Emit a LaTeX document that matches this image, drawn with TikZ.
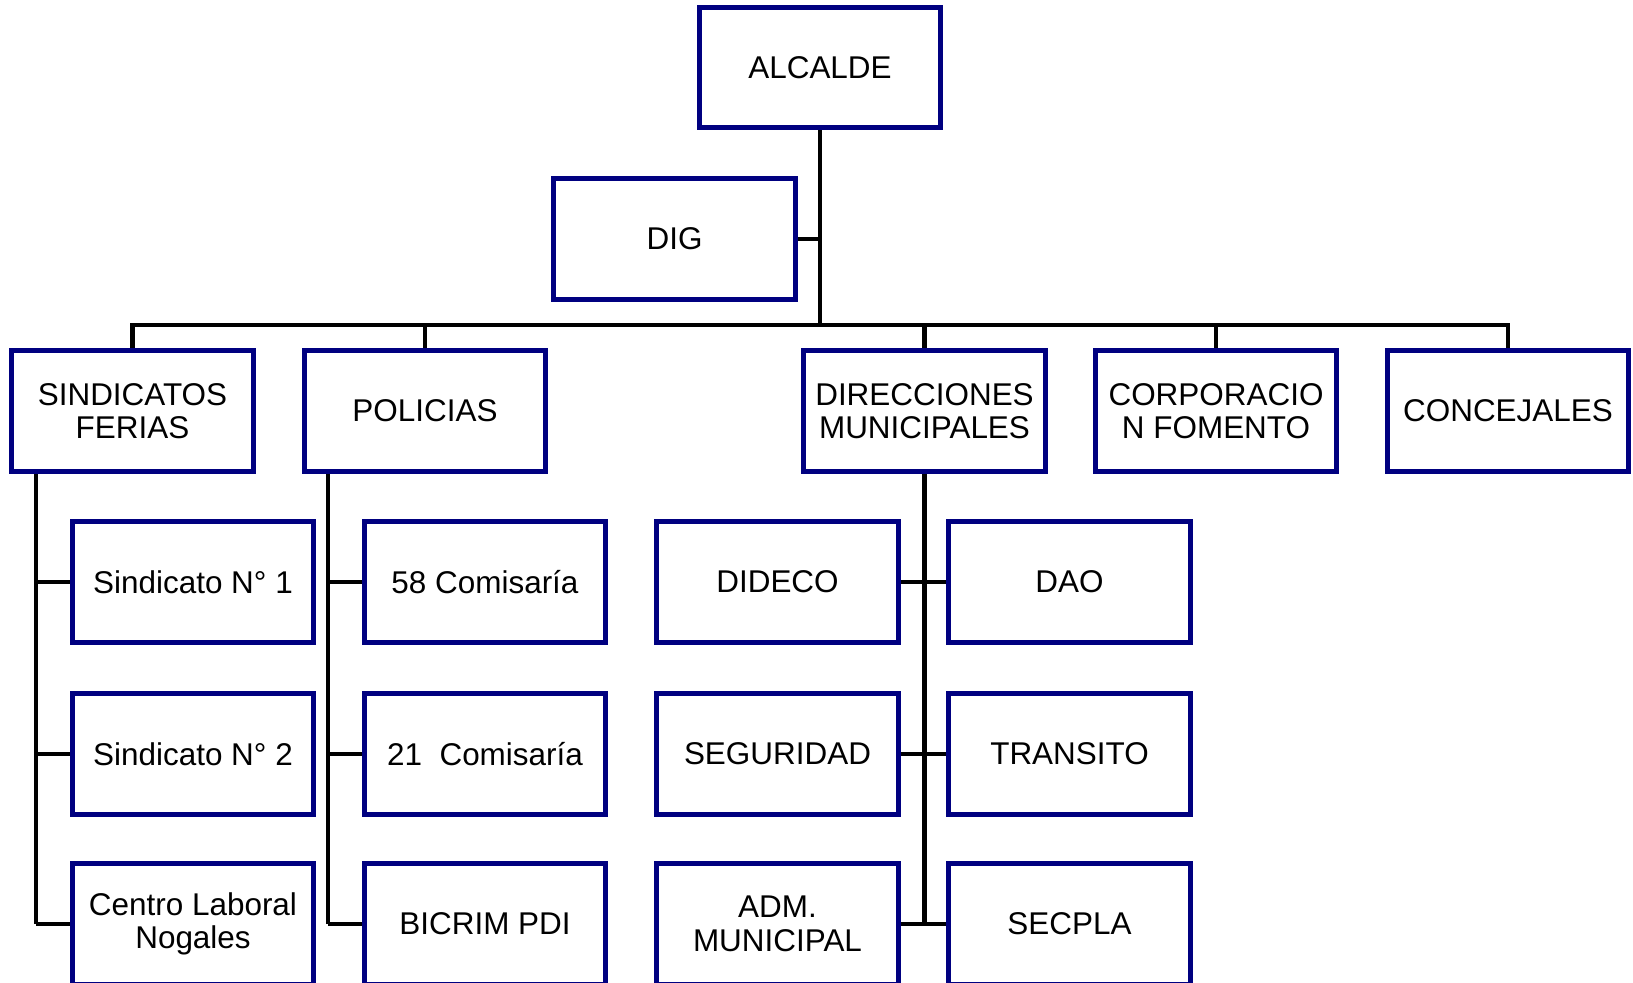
\documentclass[tikz,border=0pt]{standalone}
\usepackage{fontspec}
\setmainfont{Liberation Sans}
\usepackage{xcolor}
\definecolor{Col1}{RGB}{0,0,128}
\definecolor{Col2}{RGB}{0,0,0}
\usepackage{tikz}
\tikzstyle{Box}=[rectangle,draw=Col1,fill=white,line width=0.1cm,
minimum width=4.84cm,minimum height=2.42cm,inner sep=0pt,align=center,
font=\fontsize{17.9}{19}\selectfont]
\tikzstyle{Edge}=[draw=Col2,line width=0.09cm]

\begin{document}
\begin{tikzpicture}[x=0.02cm,y=-0.02cm]
        \useasboundingbox(0,0)rectangle(1633,983);
        \coordinate(bus)at(820,325);
        \coordinate(sp1)at(36,472);
        \coordinate(sp2)at(328,472);
        \draw[Edge](sp1)--(36,924);
        \draw[Edge](sp2)--(328,924);
        \node[Box](alc)at(820,67.5){ALCALDE};
        \node[Box](dig)at(674.5,239){DIG};
        \node[Box](sind)at(132.5,411){SINDICATOS\\FERIAS};
        \node[Box](pol)at(425,411){POLICIAS};
        \node[Box](dir)at(924.5,411){DIRECCIONES\\MUNICIPALES};
        \node[Box](corp)at(1216,411){CORPORACIO\\N FOMENTO};
        \node[Box](conc)at(1508,411){CONCEJALES};
        \node[Box](sin1)at(193,582){Sindicato N° 1};
        \node[Box](sin2)at(193,754){Sindicato N° 2};
        \node[Box](cln)at(193,924){Centro Laboral\\Nogales};
        \node[Box](com58)at(485,582){58 Comisaría};
        \node[Box](com21)at(485,754){21~~Comisaría};
        \node[Box](pdi)at(485,924){BICRIM PDI};
        \node[Box](dideco)at(777.5,582){DIDECO};
        \node[Box](seg)at(777.5,754){SEGURIDAD};
        \node[Box](adm)at(777.5,924){ADM.\\MUNICIPAL};
        \node[Box](dao)at(1069.5,582){DAO};
        \node[Box](tra)at(1069.5,754){TRANSITO};
        \node[Box](sec)at(1069.5,924){SECPLA};
        \draw[Edge](alc)--(bus);
        \draw[Edge](dig)--(dig-|bus);
        \draw[Edge](sind)|-(bus);
        \draw[Edge](pol)|-(bus);
        \draw[Edge](dir)|-(bus);
        \draw[Edge](corp)|-(bus);
        \draw[Edge](conc)|-(bus);
        \draw[Edge](sp1|-sin1)--(sin1);
        \draw[Edge](sp1|-sin2)--(sin2);
        \draw[Edge](sp1|-cln)--(cln);
        \draw[Edge](sp2|-com58)--(com58);
        \draw[Edge](sp2|-com21)--(com21);
        \draw[Edge](sp2|-pdi)--(pdi);
        \draw[Edge](dir)--(dir|-adm);
        \draw[Edge](dideco)--(dao);
        \draw[Edge](seg)--(tra);
        \draw[Edge](adm)--(sec);
    \end{tikzpicture}
\end{document}
